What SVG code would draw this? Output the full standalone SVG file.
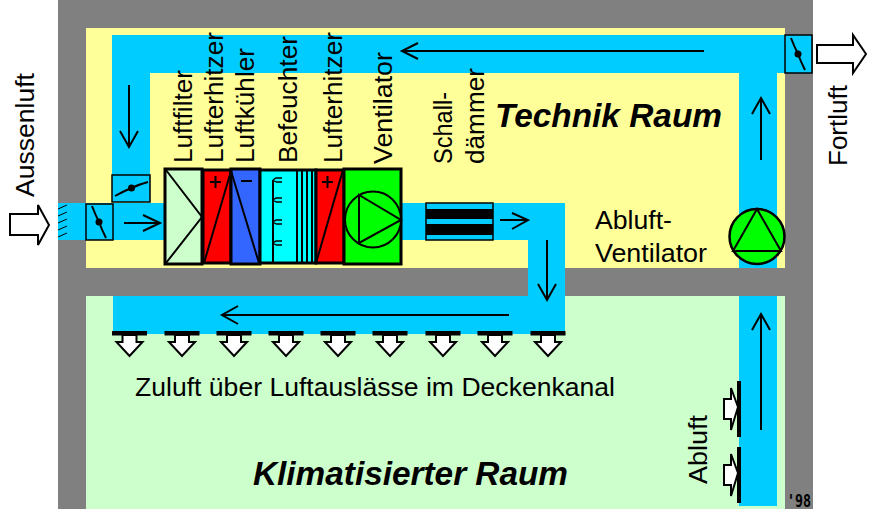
<svg xmlns="http://www.w3.org/2000/svg" width="872" height="512" viewBox="0 0 872 512">
<defs>
<style>
text{font-family:"Liberation Sans",Arial,sans-serif;fill:#000}
.l{font-size:26px}
.t{font-size:33.5px;font-weight:bold;font-style:italic}
.d{fill:#00ccff}
.k{fill:none;stroke:#000;stroke-width:2}
.w{fill:#fff;stroke:#000;stroke-width:2}
.box{fill:#00ccff;stroke:#000;stroke-width:1.5}
.n{fill:none;stroke:#000;stroke-width:1.5}
</style>
<g id="out"><path class="w" d="M-7 0V7H-13L0 21L13 7H7V0Z"/><rect x="-17.500" y="-4" width="35" height="4.500" fill="#000"/></g>
<g id="in"><path class="w" d="M-7 -21L0 -2L-7 21V10H-14V-10H-7Z"/><rect x="-1" y="-28" width="4" height="56" fill="#000"/></g>
<g id="damper"><circle r="3.500" fill="#000"/><path class="k" d="M-7 -16Q-4 -8 0 0Q3 8 7 16"/></g>
<path id="nozzle" class="n" d="M0 0L3 -2H9M3 2H9M0 0L3 2"/>
</defs>
<rect x="0" y="0" width="872" height="512" fill="#fff"/>
<rect x="58" y="0" width="755" height="509" fill="#808080"/>
<rect x="86" y="28" width="699" height="240" fill="#ffff99"/>
<rect x="86" y="296" width="699" height="213" fill="#ccffcc"/>
<g id="ducts">
<path class="d" d="M112 35H785V73H777V268H739V73H150V175H112Z"/>
<rect class="d" x="58" y="203" width="107" height="37"/>
<path class="d" d="M401 203H565V334H113V296H528V240H401Z"/>
<rect class="d" x="739" y="296" width="38" height="210"/>
</g>
<g id="connectors">
<path class="k" d="M704 51H402M418 43L402 51L418 59"/>
<path class="k" d="M129 85V147M120 131L129 147L138 131"/>
<path class="k" d="M124 223H160M143 215L160 223L143 231"/>
<path class="k" d="M500 220H528M512 213L528 220L512 229"/>
<path class="k" d="M547 240V300M538 284L547 300L556 284"/>
<path class="k" d="M509 315H222M238 306L222 315L238 324"/>
<path class="k" d="M761 160V98M752 114L761 98L770 114"/>
<path class="k" d="M761 430V314M752 330L761 314L770 330"/>
</g>
<g id="inlet-grille" stroke="#000" stroke-width="1"><path fill="none" d="M58 209L67 205M58 216L67 212M58 223L67 219M58 230L67 226M58 237L67 233"/></g>
<g id="damper-inlet"><rect class="box" x="86" y="204" width="27" height="36"/><use href="#damper" x="99" y="222"/></g>
<g id="damper-recirc"><rect class="box" x="112" y="175" width="38" height="27"/><circle cx="131.500" cy="188" r="3.500" fill="#000"/><path class="k" d="M115 196Q124 191 131.500 188Q140 184 148 182"/></g>
<g id="damper-exhaust"><rect class="box" x="785" y="35" width="27" height="38"/><use href="#damper" x="798" y="54"/></g>
<g id="filter"><rect x="165" y="169" width="37" height="95" fill="#ccffcc" stroke="#000" stroke-width="3"/><path class="k" d="M166 170L202 217L166 263"/></g>
<g id="heater1"><rect x="203" y="170" width="28" height="93" fill="#ff0000" stroke="#000" stroke-width="3"/><path class="k" d="M204 263L231 171M210 182H221M215.500 176V188"/></g>
<g id="cooler"><rect x="231" y="169" width="29" height="95" fill="#3366ff" stroke="#000" stroke-width="3"/><path class="k" d="M231 171L259 263M241 181H252"/></g>
<g id="humidifier"><rect x="260" y="170" width="56" height="93" fill="#00ffff" stroke="#000" stroke-width="3"/>
<path class="k" d="M273 263V180M297 170V263M302 170V263M307 170V263M312 170V263"/>
<use href="#nozzle" x="273" y="180"/><use href="#nozzle" x="273" y="200"/><use href="#nozzle" x="273" y="222"/><use href="#nozzle" x="273" y="243"/></g>
<g id="heater2"><rect x="316" y="170" width="28" height="93" fill="#ff0000" stroke="#000" stroke-width="3"/><path class="k" d="M316 263L343 170M322 182H333M327.500 176V188"/></g>
<g id="fan"><rect x="344" y="169" width="57" height="95" fill="#00ff00" stroke="#000" stroke-width="3"/><circle cx="373" cy="219.500" r="28" fill="#00ff00" stroke="#000" stroke-width="2"/><path class="k" d="M359 195V243L401 220Z"/></g>
<g id="silencer"><rect class="box" x="426" y="203" width="67" height="37"/><rect x="426" y="209" width="67" height="10" fill="#000"/><rect x="426" y="224" width="67" height="11" fill="#000"/></g>
<g id="exhaust-fan"><circle cx="757" cy="236.500" r="27.500" fill="#00ff00" stroke="#000" stroke-width="2.500"/><path class="k" d="M757 209L733 251H781Z"/></g>
<g id="outlets">
<use href="#out" x="129.500" y="335"/><use href="#out" x="182" y="335"/><use href="#out" x="234" y="335"/><use href="#out" x="286" y="335"/><use href="#out" x="338" y="335"/><use href="#out" x="390" y="335"/><use href="#out" x="443" y="335"/><use href="#out" x="495" y="335"/><use href="#out" x="548" y="335"/>
</g>
<g id="inlets"><use href="#in" x="738" y="409"/><use href="#in" x="738" y="475"/></g>
<g id="arrow-in"><path class="w" d="M10 214H38V205L49 225L38 245V235H10Z"/></g>
<g id="arrow-out"><path class="w" d="M817 45H853V35L866 54L853 73V63H817Z"/></g>
<g id="labels">
<text class="l" textLength="124" lengthAdjust="spacingAndGlyphs" transform="translate(34,197) rotate(-90)">Aussenluft</text>
<text class="l" textLength="93" lengthAdjust="spacingAndGlyphs" transform="translate(192,163) rotate(-90)">Luftfilter</text>
<text class="l" textLength="131" lengthAdjust="spacingAndGlyphs" transform="translate(223,163) rotate(-90)">Lufterhitzer</text>
<text class="l" textLength="115" lengthAdjust="spacingAndGlyphs" transform="translate(254,163) rotate(-90)">Luftkühler</text>
<text class="l" textLength="127" lengthAdjust="spacingAndGlyphs" transform="translate(297,163) rotate(-90)">Befeuchter</text>
<text class="l" textLength="131" lengthAdjust="spacingAndGlyphs" transform="translate(342,163) rotate(-90)">Lufterhitzer</text>
<text class="l" textLength="112" lengthAdjust="spacingAndGlyphs" transform="translate(392,164) rotate(-90)">Ventilator</text>
<text class="l" textLength="72" lengthAdjust="spacingAndGlyphs" transform="translate(452,164) rotate(-90)">Schall-</text>
<text class="l" textLength="96" lengthAdjust="spacingAndGlyphs" transform="translate(484,164) rotate(-90)">dämmer</text>
<text class="l" textLength="81" lengthAdjust="spacingAndGlyphs" transform="translate(847,166) rotate(-90)">Fortluft</text>
<text class="l" textLength="69" lengthAdjust="spacingAndGlyphs" transform="translate(707,484) rotate(-90)">Abluft</text>
<text class="t" textLength="227" lengthAdjust="spacingAndGlyphs" x="495" y="127">Technik Raum</text>
<text class="t" textLength="315" lengthAdjust="spacingAndGlyphs" x="253" y="485">Klimatisierter Raum</text>
<text class="l" textLength="77" lengthAdjust="spacingAndGlyphs" x="595" y="229">Abluft-</text>
<text class="l" textLength="112" lengthAdjust="spacingAndGlyphs" x="595" y="262">Ventilator</text>
<text class="l" textLength="480" lengthAdjust="spacingAndGlyphs" x="135" y="396">Zuluft über Luftauslässe im Deckenkanal</text>
<text x="787" y="507" textLength="24" lengthAdjust="spacingAndGlyphs" style="font-family:'DejaVu Sans Mono',monospace;font-size:18px;font-weight:bold">'98</text>
</g>
</svg>
